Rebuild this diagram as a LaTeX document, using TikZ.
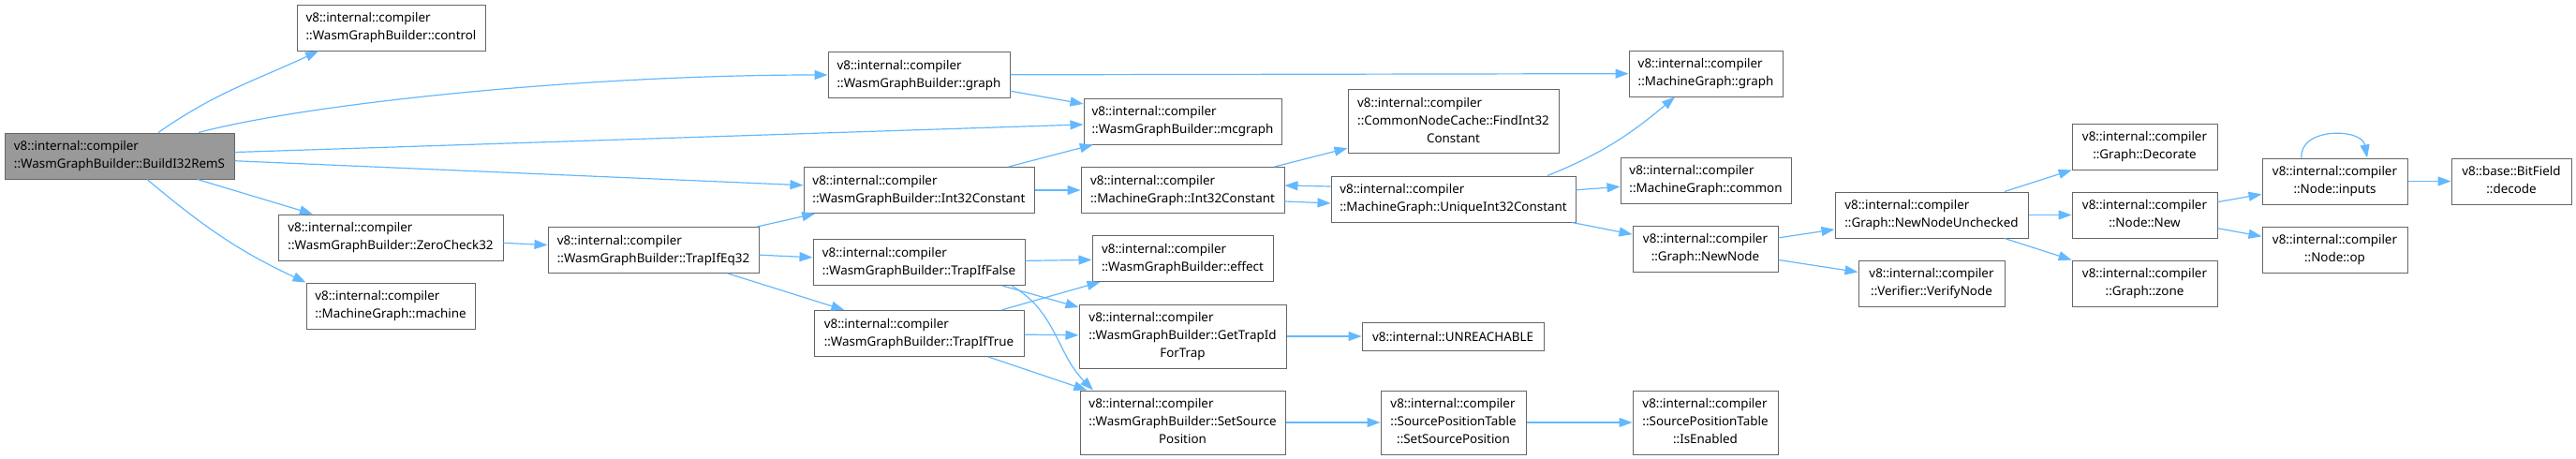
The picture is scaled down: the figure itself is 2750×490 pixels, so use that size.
\documentclass[tikz,border=0pt]{standalone}
\usepackage{fontspec}
\setmainfont{Noto Sans}
\usetikzlibrary{arrows.meta}
\definecolor{linkblue}{HTML}{63B8FF}
\definecolor{boxline}{HTML}{666666}
\definecolor{rootfill}{HTML}{999999}
\newcommand{\nlab}[2]{\begin{tabular}{@{}l@{}}#1\\\multicolumn{1}{@{}c@{}}{#2}\end{tabular}}

\begin{document}
\begin{tikzpicture}[x=1pt, y=-1pt, font=\fontsize{13.4}{19}\selectfont,
  box/.style={draw=boxline, line width=1pt, fill=white, inner sep=0pt, minimum height=49pt},
  tall/.style={box, minimum height=68pt},
  edge/.style={draw=linkblue, line width=1.2pt, -{Triangle[length=14pt,width=10pt]}}]
\useasboundingbox (0,0) rectangle (2750,490);
% caller and first calls
\node (root) at (127.5,166.5) [box, fill=rootfill, minimum width=245pt] {\nlab{v8::internal::compiler}{::WasmGraphBuilder::BuildI32RemS}};
\node (control) at (417.5,29.5) [box, minimum width=201pt] {\nlab{v8::internal::compiler}{::WasmGraphBuilder::control}};
\node (zero) at (417,253.5) [box, minimum width=240pt] {\nlab{v8::internal::compiler}{::WasmGraphBuilder::ZeroCheck32}};
\node (machine) at (417,326.5) [box, minimum width=180pt] {\nlab{v8::internal::compiler}{::MachineGraph::machine}};
\node (trapeq) at (697.5,267) [box, minimum width=225pt] {\nlab{v8::internal::compiler}{::WasmGraphBuilder::TrapIfEq32}};
\node (wgraph) at (981,80) [box, minimum width=194pt] {\nlab{v8::internal::compiler}{::WasmGraphBuilder::graph}};
\node (wint) at (981,203) [box, minimum width=246pt] {\nlab{v8::internal::compiler}{::WasmGraphBuilder::Int32Constant}};
\node (trapf) at (981,280) [box, minimum width=226pt] {\nlab{v8::internal::compiler}{::WasmGraphBuilder::TrapIfFalse}};
\node (trapt) at (981,356) [box, minimum width=224pt] {\nlab{v8::internal::compiler}{::WasmGraphBuilder::TrapIfTrue}};
% middle
\node (mcgraph) at (1262.5,129.5) [box, minimum width=211pt] {\nlab{v8::internal::compiler}{::WasmGraphBuilder::mcgraph}};
\node (mint) at (1262.5,203) [box, minimum width=217pt] {\nlab{v8::internal::compiler}{::MachineGraph::Int32Constant}};
\node (effect) at (1262.5,276) [box, minimum width=193pt] {\nlab{v8::internal::compiler}{::WasmGraphBuilder::effect}};
\node (gettrap) at (1262.5,359) [tall, minimum width=221pt] {\nlab{v8::internal::compiler\\::WasmGraphBuilder::GetTrapId}{ForTrap}};
\node (setsrc) at (1262.5,451) [tall, minimum width=219pt] {\nlab{v8::internal::compiler\\::WasmGraphBuilder::SetSource}{Position}};
\node (find) at (1551.5,129.5) [tall, minimum width=225pt] {\nlab{v8::internal::compiler\\::CommonNodeCache::FindInt32}{Constant}};
\node (unique) at (1551.5,212.5) [box, minimum width=261pt] {\nlab{v8::internal::compiler}{::MachineGraph::UniqueInt32Constant}};
\node (unreach) at (1551,359) [box, minimum height=30pt, minimum width=194pt] {v8::internal::UNREACHABLE};
\node (sptset) at (1551.5,451) [tall, minimum width=155pt] {\nlab{v8::internal::compiler\\::SourcePositionTable}{::SetSourcePosition}};
\node (mgraph) at (1821,78.5) [box, minimum width=164pt] {\nlab{v8::internal::compiler}{::MachineGraph::graph}};
\node (common) at (1821,192.5) [box, minimum width=182pt] {\nlab{v8::internal::compiler}{::MachineGraph::common}};
\node (newnode) at (1820.5,265.5) [box, minimum width=155pt] {\nlab{v8::internal::compiler}{::Graph::NewNode}};
\node (enabled) at (1820.5,451) [tall, minimum width=155pt] {\nlab{v8::internal::compiler\\::SourcePositionTable}{::IsEnabled}};
% right end
\node (unchecked) at (2062,229.5) [box, minimum width=206pt] {\nlab{v8::internal::compiler}{::Graph::NewNodeUnchecked}};
\node (verify) at (2062,302.5) [box, minimum width=156pt] {\nlab{v8::internal::compiler}{::Verifier::VerifyNode}};
\node (decorate) at (2289.5,156.5) [box, minimum width=155pt] {\nlab{v8::internal::compiler}{::Graph::Decorate}};
\node (nnew) at (2289.5,229.5) [box, minimum width=155pt] {\nlab{v8::internal::compiler}{::Node::New}};
\node (zone) at (2289.5,302.5) [box, minimum width=155pt] {\nlab{v8::internal::compiler}{::Graph::zone}};
\node (inputs) at (2492.5,193.5) [box, minimum width=155pt] {\nlab{v8::internal::compiler}{::Node::inputs}};
\node (op) at (2492.5,266.5) [box, minimum width=155pt] {\nlab{v8::internal::compiler}{::Node::op}};
\node (decode) at (2681,193.5) [box, minimum width=128pt] {\nlab{v8::base::BitField}{::decode}};
% calls
\foreach \a/\b in {root/mcgraph, root/wint, root/zero, zero/trapeq, trapeq/wint, trapeq/trapf,
  trapeq/trapt, wgraph/mgraph, wgraph/mcgraph, wint/mcgraph, wint/mint, trapf/effect,
  trapf/gettrap, trapt/effect, trapt/gettrap, trapt/setsrc, mint/find, gettrap/unreach,
  setsrc/sptset, unique/common, unique/newnode, sptset/enabled, newnode/unchecked,
  newnode/verify, unchecked/decorate, unchecked/nnew, unchecked/zone, nnew/inputs,
  nnew/op, inputs/decode}
  \draw[edge] (\a) -- (\b);
\draw[edge] ([xshift=41.5pt]root.north) to[out=35,in=205] ([xshift=-77.5pt]control.south);
\draw[edge] ([xshift=84.5pt]root.north) to[out=15,in=180,out looseness=0.45] (wgraph.west);
\draw[edge] ([xshift=29.5pt]root.south) to[out=-40,in=155] (machine.north west);
\draw[edge] ([xshift=99pt]trapf.south) to[out=-30,in=135] ([xshift=-95.5pt]setsrc.north);
\draw[edge] ([xshift=100.5pt]unique.north) to[out=22,in=-140] ([xshift=-33pt]mgraph.south);
\draw[edge] ([yshift=-12pt]mint.east) -- ([yshift=-4.5pt]unique.west);
\draw[edge] ([yshift=13.5pt]unique.west) -- ([yshift=5pt]mint.east);
\draw[edge] ([xshift=-35.5pt]inputs.north) to[out=95,in=100,looseness=1.2] ([xshift=34.5pt]inputs.north);
\end{tikzpicture}
\end{document}
